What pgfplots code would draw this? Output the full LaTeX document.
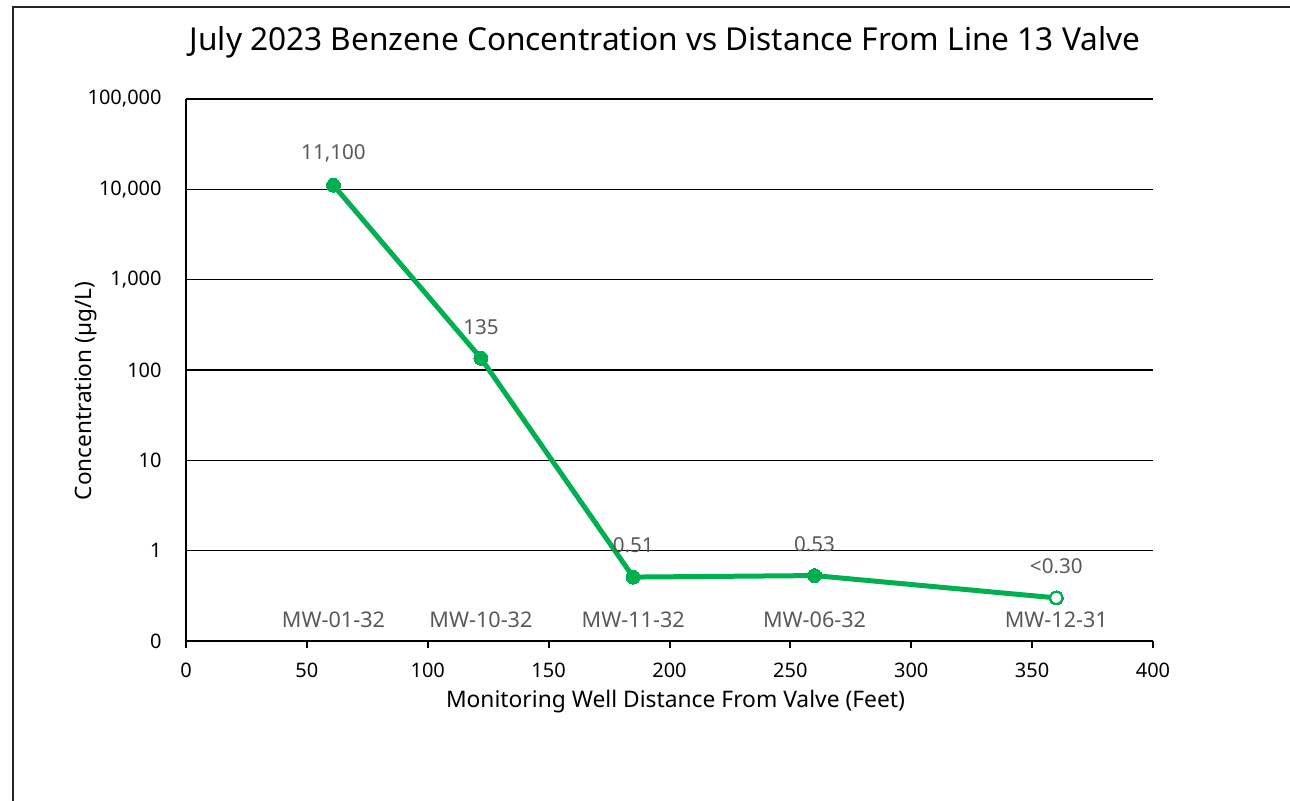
\documentclass[border=0pt]{standalone}
\usepackage{pgfplots}
\pgfplotsset{compat=1.18}
\usepackage{pgfplotstable}
\usepackage{fontspec}
\setmainfont{Noto Sans}
\definecolor{exgreen}{HTML}{00B050}
\definecolor{lblgrey}{HTML}{595959}

\pgfplotstableread{
x y label base cat
61 11100 11,100 0.1 MW-01-32
122 135 135 0.1 MW-10-32
185 0.51 0.51 0.1 MW-11-32
260 0.53 0.53 0.1 MW-06-32
360 0.30 <0.30 0.1 MW-12-31
}\datatable

\begin{document}
\begin{tikzpicture}[x=1pt,y=1pt]
% page: 1290 x 801 px, 1 px = 0.5 pt
\path[use as bounding box] (0,0) rectangle (645,-400.5);
\draw[black!85, line width=1pt] (6.25,-400.5) -- (6.25,-3.75) -- (645,-3.75);
\node[anchor=base, font=\fontsize{15.8}{19}\selectfont] at (332.5,-25.5)
  {July 2023 Benzene Concentration vs Distance From Line 13 Valve};
\node[rotate=90, anchor=center, font=\fontsize{11.3}{14}\selectfont] at (43,-195.5)
  {Concentration (µg/L)};
\begin{axis}[
  at={(93pt,-320.5pt)}, anchor=south west,
  scale only axis, width=483.5pt, height=271pt,
  xmin=0, xmax=400, xtick={0,50,...,400},
  ymode=log, log basis y=10, ymin=0.1, ymax=100000,
  ytick={0.1,1,10,100,1000,10000,100000},
  yticklabels={0,1,10,100,{1,000},{10,000},{100,000}},
  /pgf/number format/assume math mode=true,
  axis x line*=bottom, axis y line*=left,
  axis line style={line width=1pt, black, -},
  ymajorgrids, grid style={line width=0.75pt, black},
  ytick style={draw=none},
  xtick style={line width=1pt, black},
  tick align=outside, major tick length=3.5pt,
  minor tick num=0,
  tick label style={font=\fontsize{10}{12}\selectfont, inner sep=0pt},
  xticklabel style={anchor=north, yshift=-7.5pt},
  yticklabel style={anchor=east, xshift=-8.5pt},
  xlabel={Monitoring Well Distance From Valve (Feet)},
  xlabel style={at={(axis description cs:0.5,0)}, anchor=base, yshift=-33pt, xshift=3pt,
    font=\fontsize{11.4}{14}\selectfont},
  clip=false,
]
% line with filled markers
\addplot[exgreen, line width=2.5pt, mark=*, mark size=3.5pt,
  mark options={fill=exgreen, draw=exgreen, line width=0pt}, line join=round]
  table[x=x, y=y] {\datatable};
% open marker on last point (non-detect)
\addplot[only marks, mark=*, mark size=3pt,
  mark options={draw=exgreen, fill=white, line width=1pt}]
  coordinates {(360,0.30)};
% data labels
\addplot[draw=none, mark=none, nodes near coords, point meta=explicit symbolic,
  nodes near coords style={anchor=center, yshift=15.75pt, text=lblgrey,
    font=\fontsize{10.3}{13}\selectfont, inner sep=0pt}]
  table[x=x, y=y, meta=label] {\datatable};
% well names
\addplot[draw=none, mark=none, nodes near coords, point meta=explicit symbolic,
  nodes near coords style={anchor=center, yshift=10.5pt, text=lblgrey,
    font=\fontsize{10.8}{13}\selectfont, inner sep=0pt}]
  table[x=x, y=base, meta=cat] {\datatable};
\end{axis}
\end{tikzpicture}
\end{document}
